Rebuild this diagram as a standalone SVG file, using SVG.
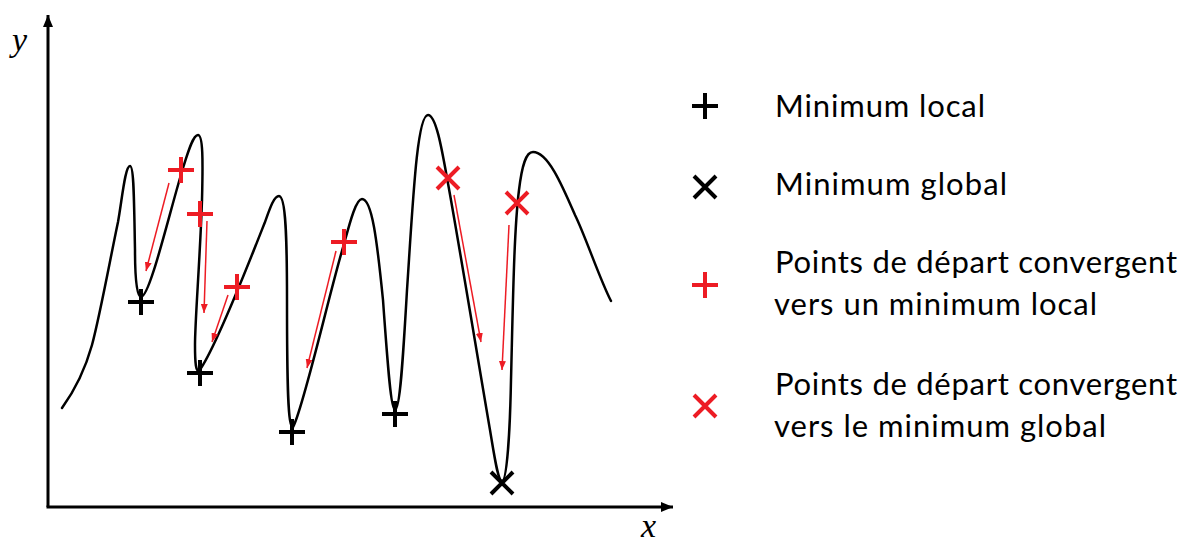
<svg xmlns="http://www.w3.org/2000/svg" width="1182" height="544" viewBox="0 0 1182 544">
<style>
.axis{stroke:#000;stroke-width:3;fill:none}
.curve{stroke:#000;stroke-width:2.5;fill:none;stroke-linecap:round;stroke-linejoin:round}
.mk{stroke-width:4;fill:none}
.blk{stroke:#000}
.red{stroke:#ED1C24}
.arr{stroke:#ED1C24;stroke-width:1.5;fill:none;marker-end:url(#ah)}
.lbl{font-family:Lato,"Open Sans",sans-serif;font-size:31px;fill:#000}
.var{font-family:"Liberation Serif",serif;font-style:italic;font-size:34px;fill:#000}
</style>
<defs>
<marker id="ah" markerUnits="userSpaceOnUse" markerWidth="9" markerHeight="7" refX="9" refY="3.5" orient="auto">
<path d="M0,0 L9,3.5 L0,7 z" fill="#ED1C24"/>
</marker>
<marker id="axh" markerUnits="userSpaceOnUse" markerWidth="12" markerHeight="10" refX="12" refY="5" orient="auto">
<path d="M0,0 L12,5 L0,10 z" fill="#000"/>
</marker>
<path id="plus" d="M-13,0 H13 M0,-13 V13"/>
<path id="cross" d="M-11,-11 L11,11 M-11,11 L11,-11"/>
</defs>
<rect width="1182" height="544" fill="#fff"/>
<g id="axes">
<line class="axis" x1="48" y1="507" x2="48" y2="15" marker-end="url(#axh)"/>
<line class="axis" x1="46.5" y1="507" x2="673" y2="507" marker-end="url(#axh)"/>
<text class="var" x="12" y="51">y</text>
<text class="var" x="641" y="537">x</text>
</g>
<g id="curve">
<path class="curve" d="M62,408 C75,390 85,370 92,345 C100,315 110,260 118,222 C122,200 125,166 130,166 C134,166 134,200 135,250 C135,280 137,297 141,297 C150,297 170,210 183,168 C188,152 193,135 198,135 C203,135 203,160 202,200 C200,260 195,320 195,345 C195,365 196,371 199,371 C215,350 250,260 265,222 C270,208 274,196 279,196 C286,196 287,240 287,300 C287,390 288,427 293,427 C303,410 330,290 344,244 C350,222 356,199 362,199 C372,199 377,240 383,300 C388,370 391,410 395,410 C400,410 403,360 407,290 C413,200 417,115 428,115 C436,115 442,150 447,178 C455,220 478,360 490,430 C495,460 498,481 502,481 C507,481 510,430 511,380 C513,300 514,230 519,190 C522,165 526,152 533,152 C548,152 562,185 575,215 C585,235 600,280 611,301"/>
</g>
<g id="local-minima">
<use href="#plus" class="mk blk" x="141" y="302"/>
<use href="#plus" class="mk blk" x="200" y="373"/>
<use href="#plus" class="mk blk" x="292" y="432"/>
<use href="#plus" class="mk blk" x="395" y="414"/>
</g>
<g id="global-minimum">
<use href="#cross" class="mk blk" x="502" y="483"/>
</g>
<g id="start-local">
<use href="#plus" class="mk red" x="181" y="170"/>
<use href="#plus" class="mk red" x="200" y="214"/>
<use href="#plus" class="mk red" x="237" y="287"/>
<use href="#plus" class="mk red" x="344" y="242"/>
</g>
<g id="start-global">
<use href="#cross" class="mk red" x="448" y="178"/>
<use href="#cross" class="mk red" x="517" y="203"/>
</g>
<g id="connectors">
<line class="arr" x1="169" y1="183" x2="146" y2="271"/>
<line class="arr" x1="207" y1="221" x2="204" y2="313"/>
<line class="arr" x1="228" y1="295" x2="212" y2="342"/>
<line class="arr" x1="336" y1="251" x2="307" y2="368"/>
<line class="arr" x1="454" y1="195" x2="481" y2="342"/>
<line class="arr" x1="509" y1="225" x2="502" y2="370"/>
</g>
<g id="legend-local">
<use href="#plus" class="mk blk" x="705" y="106"/>
<text class="lbl" x="775" y="117" textLength="210">Minimum local</text>
</g>
<g id="legend-global">
<use href="#cross" class="mk blk" x="705" y="187"/>
<text class="lbl" x="775" y="195" textLength="232">Minimum global</text>
</g>
<g id="legend-start-local">
<use href="#plus" class="mk red" x="705" y="285"/>
<text class="lbl" x="775" y="273" textLength="402">Points de départ convergent</text>
<text class="lbl" x="774" y="315" textLength="323">vers un minimum local</text>
</g>
<g id="legend-start-global">
<use href="#cross" class="mk red" x="705" y="406"/>
<text class="lbl" x="775" y="395" textLength="402">Points de départ convergent</text>
<text class="lbl" x="774" y="437" textLength="332">vers le minimum global</text>
</g>
</svg>
